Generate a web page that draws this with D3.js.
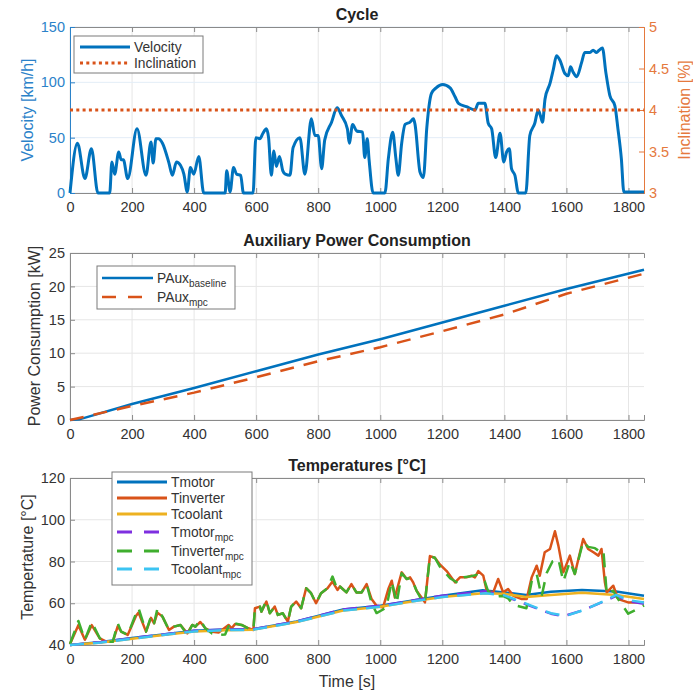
<!DOCTYPE html>
<html>
<head>
<meta charset="utf-8">
<script src="https://cdn.jsdelivr.net/npm/d3@7"></script>
<style>
  body { margin: 0; background: #fff; }
  text { font-family: "Liberation Sans", Arial, sans-serif; }
</style>
</head>
<body>
<div id="chart"></div>
<script>
// ---- data ----
const timeTicks = [0, 200, 400, 600, 800, 1000, 1200, 1400, 1600, 1800];
const velTicks = [0, 50, 100, 150];
const inclTicks = [3, 3.5, 4, 4.5, 5];
const powerTicks = [0, 5, 10, 15, 20, 25];
const tempTicks = [40, 60, 80, 100, 120];

// [time s, km/h]
const velocity = [[0,0],[24,45],[48,13],[69,40],[90,0],[128,0],[135,28],[144,17],[157,37],[165,30],[172,30],[186,13],
  [216,58],[245,16],[261,46],[268,27],[277,49],[285,49],[298,45],[319,27],[330,16],[343,28],[356,25],[367,17],[378,1],
  [388,23],[399,17],[415,33],[431,0],[500,0],[505,20],[516,1],[527,23],[537,17],[550,16],[559,0],[590,0],[599,50],
  [612,49],[622,54],[633,58],[640,50],[649,16],[657,38],[665,24],[675,33],[686,20],[694,17],[709,16],[719,41],[741,50],
  [757,17],[778,67],[789,52],[800,52],[811,22],[821,48],[843,64],[861,77],[875,70],[894,58],[900,45],[911,62],[924,56],
  [943,55],[950,32],[958,49],[964,30],[977,0],[1015,0],[1026,31],[1040,55],[1050,32],[1058,16],[1069,45],[1080,62],
  [1096,64],[1107,67],[1112,62],[1128,19],[1139,14],[1150,59],[1165,90],[1180,95],[1201,98],[1225,95],[1241,87],
  [1252,81],[1278,78],[1305,75],[1316,81],[1337,81],[1348,63],[1359,58],[1372,32],[1386,54],[1398,28],[1407,37],
  [1416,40],[1423,22],[1434,16],[1445,0],[1469,0],[1482,52],[1498,63],[1509,75],[1516,70],[1523,64],[1531,85],
  [1547,99],[1558,112],[1568,124],[1579,120],[1595,108],[1606,106],[1613,114],[1622,109],[1633,105],[1649,118],
  [1659,127],[1676,127],[1686,129],[1697,127],[1705,129],[1716,131],[1727,109],[1740,88],[1756,79],[1766,58],
  [1777,31],[1785,1],[1850,1]];

// [time s, %]
const inclination = [[0,4],[1850,4]];

// [time s, kW]
const pauxBaseline = [[0,0],[30,0.1],[200,2.4],[400,4.8],[600,7.3],[800,9.8],[1000,12.1],[1200,14.6],[1400,17.1],[1600,19.6],[1850,22.5]];
const pauxMpc = [[0,0],[200,2.1],[400,4.1],[600,6.4],[800,8.8],[1000,10.9],[1200,13.3],[1400,15.8],[1600,18.9],[1850,21.9]];

// [time s, degC]
const tMotor = [[0,40],[100,41.4],[200,43.3],[300,45],[400,46.8],[500,47.4],[590,47.6],[730,51.3],[880,57],[1000,58.8],
  [1100,61.2],[1200,63.6],[1330,66.2],[1400,65.2],[1470,64],[1550,65.5],[1650,66.4],[1760,65.6],[1850,63.6]];
const tCoolant = [[0,40],[100,41.2],[200,43],[300,44.8],[400,46.5],[500,47.1],[590,47.3],[730,51],[880,56.5],[1000,58.3],
  [1100,60.8],[1200,63],[1330,64.8],[1400,64.5],[1470,63],[1550,64],[1650,65],[1760,64],[1850,62]];
const tInverter = [[0,40.5],[27,49.5],[48,42.5],[70,49.5],[96,43.2],[117,41.6],[138,41.6],[154,49],[165,46.4],[186,44.8],
  [213,54],[221,55.5],[245,46.4],[261,53],[271,50.4],[282,55.5],[298,53.6],[319,47.2],[335,48.8],[356,49.6],[378,45.6],
  [394,49.6],[404,48.8],[420,51],[436,48],[458,46.4],[479,46],[511,49.6],[521,48],[532,50],[553,49.6],[575,48],[591,47.2],
  [596,57.6],[612,58.4],[617,56],[633,60.8],[644,55.2],[660,58.4],[670,54.4],[686,55.2],[702,51.2],[713,58.4],[729,60.8],
  [745,57.6],[761,67.2],[777,64.8],[793,60],[809,64.8],[830,67.2],[846,70.4],[862,66.4],[870,68],[891,65.2],[907,69.2],
  [923,65.2],[940,65.2],[956,69.2],[972,62],[988,58.8],[1009,58],[1026,66.8],[1037,70.8],[1047,62.8],[1069,74.8],
  [1085,71.6],[1096,72.4],[1106,70],[1117,66],[1133,62.8],[1144,60.4],[1160,82.6],[1176,81.8],[1192,78.6],[1214,75.4],
  [1241,70],[1257,72.4],[1278,72.4],[1294,73.2],[1305,72.4],[1316,75.4],[1332,73.2],[1343,66],[1364,65.2],[1380,71.6],
  [1396,65.2],[1412,66.8],[1429,63.6],[1456,62],[1472,62],[1488,72.4],[1504,78],[1514,73.2],[1530,84.4],[1547,86],
  [1563,94.5],[1574,87.6],[1590,74.8],[1611,82.8],[1627,74],[1654,90.8],[1670,86],[1687,84.4],[1703,82.8],[1713,86],
  [1724,70],[1730,65.2],[1751,68.4],[1767,62],[1799,60.4],[1850,60.5]];
const tMotorMpc = [[0,40],[100,41.4],[200,43.3],[300,45],[400,46.8],[500,47.4],[590,47.6],[730,51.3],[880,57],[1000,58.8],
  [1100,61.2],[1200,63.6],[1340,65.8],[1400,63.5],[1470,59.5],[1550,55],[1590,53.8],[1650,56.5],[1720,60.8],[1760,63.5],
  [1800,61],[1850,59.8]];
const tInverterMpc = [[0,40.5],[27,51.5],[48,42.5],[70,51],[96,43.2],[117,41.6],[138,41.6],[154,50.4],[165,46.4],[186,44.8],
  [213,55.2],[221,57.6],[245,46.4],[261,53.6],[271,50.4],[282,57.6],[298,53.6],[319,47.2],[335,48.8],[356,49.6],[378,45],
  [394,49.6],[404,48.8],[420,52],[436,48],[458,45.5],[479,44.8],[500,45],[511,49],[521,48],[532,50.4],[553,49.6],[575,48],
  [591,47.2],[596,57.6],[612,58.4],[617,56],[633,61.5],[644,55.2],[660,58.4],[670,54.4],[686,55.2],[702,51.2],[713,58.4],
  [729,60.8],[745,57.6],[761,67.2],[777,64.8],[793,60],[809,64.8],[830,67.2],[846,72.8],[862,66.4],[870,68],[891,65.2],
  [907,69.2],[923,65.2],[940,65.2],[956,69.2],[972,60],[988,55.3],[1009,57],[1020,58.4],[1037,70.4],[1053,60],[1069,74.4],
  [1085,71.6],[1096,72],[1106,70],[1117,66],[1133,61.6],[1144,60.4],[1160,82.4],[1176,81.8],[1192,77.6],[1225,72],
  [1251,69.6],[1270,72.5],[1294,73],[1310,73.6],[1337,70.4],[1348,65.6],[1375,63.2],[1395,63.5],[1412,62.4],[1429,59.2],
  [1471,57.6],[1488,70.4],[1504,74],[1520,63.2],[1536,74.4],[1555,80],[1574,81.2],[1590,70.4],[1611,80],[1627,74],
  [1654,89.6],[1670,87],[1692,86.4],[1705,85],[1719,85.5],[1730,64.4],[1751,66],[1762,63],[1799,55],[1842,58.3],[1850,59]];
const tCoolantMpc = [[0,40],[100,41.2],[200,43],[300,44.8],[400,46.5],[500,47.1],[590,47.3],[730,51],[880,56.5],[1000,58.3],
  [1100,60.8],[1200,63],[1340,64.8],[1400,63.8],[1470,59.8],[1550,55.2],[1600,54],[1660,57],[1720,61],[1760,64],
  [1800,61.5],[1850,60.4]];

// ---- setup ----
const width = 693, height = 691;
const blue = "#0072BD", orange = "#D95319", yellow = "#EDB120",
      purple = "#7E2FE0", green = "#3FAE2E", cyan = "#3CC4F2";
const frameColor = "#8a8a8a", gridColor = "#e6e6e6", textColor = "#333";

const svg = d3.select("#chart")
    .append("svg")
    .attr("width", width)
    .attr("height", height);

const x = d3.scaleLinear().domain([0, 1850]).range([70, 644]);

const line = d3.line().x(d => x(d[0]));

// draws grid, border, x axes and title for a panel; returns its y scale
function makePanel(top, bottom, yDomain, yTicks, title, gridCol) {
  const y = d3.scaleLinear().domain(yDomain).range([bottom, top]);
  const g = svg.append("g");

  g.selectAll(".vgrid").data(timeTicks).join("line")
      .attr("x1", d => x(d)).attr("x2", d => x(d))
      .attr("y1", top).attr("y2", bottom)
      .attr("stroke", gridColor);
  g.selectAll(".hgrid").data(yTicks).join("line")
      .attr("x1", x.range()[0]).attr("x2", x.range()[1])
      .attr("y1", d => y(d)).attr("y2", d => y(d))
      .attr("stroke", gridCol || gridColor);

  const xb = g.append("g")
      .attr("transform", `translate(0,${bottom})`)
      .call(d3.axisBottom(x).tickValues(timeTicks).tickFormat(d3.format("d")).tickSize(-5).tickPadding(9));
  const xt = g.append("g")
      .attr("transform", `translate(0,${top})`)
      .call(d3.axisTop(x).tickValues(timeTicks).tickSize(-5).tickFormat(""));
  [xb, xt].forEach(a => {
    a.select(".domain").attr("stroke", frameColor);
    a.selectAll(".tick line").attr("stroke", frameColor);
    a.selectAll("text").attr("fill", textColor).style("font-size", "14.5px")
        .style("font-family", "'Liberation Sans', Arial, sans-serif");
  });

  svg.append("text")
      .attr("x", (x.range()[0] + x.range()[1]) / 2)
      .attr("y", top - 7)
      .attr("text-anchor", "middle")
      .attr("fill", "#222")
      .style("font-size", "16px")
      .style("font-weight", "bold")
      .text(title);
  return y;
}

function yAxis(y, ticks, side, color, labelColor, fmt) {
  const pos = side === "left" ? x.range()[0] : x.range()[1];
  const gen = (side === "left" ? d3.axisLeft(y) : d3.axisRight(y))
      .tickValues(ticks).tickSize(-5).tickPadding(5);
  if (fmt) gen.tickFormat(fmt);
  const a = svg.append("g").attr("transform", `translate(${pos},0)`).call(gen);
  a.select(".domain").attr("stroke", color);
  a.selectAll(".tick line").attr("stroke", color);
  a.selectAll("text").attr("fill", labelColor).style("font-size", "14.5px")
      .style("font-family", "'Liberation Sans', Arial, sans-serif");
}

function yLabel(text, cx, cy, color) {
  return svg.append("text")
      .attr("transform", `translate(${cx},${cy}) rotate(-90)`)
      .attr("text-anchor", "middle")
      .attr("fill", color)
      .style("font-size", "16px")
      .text(text);
}

function legendBox(x0, y0, w, h) {
  svg.append("rect")
      .attr("x", x0).attr("y", y0).attr("width", w).attr("height", h)
      .attr("fill", "#fff").attr("stroke", "#7a7a7a").attr("stroke-width", 1);
}

function legendEntry(x0, x1, yy, color, dash, width, label, sub) {
  svg.append("line")
      .attr("x1", x0).attr("x2", x1).attr("y1", yy).attr("y2", yy)
      .attr("stroke", color).attr("stroke-width", width)
      .attr("stroke-dasharray", dash);
  const t = svg.append("text")
      .attr("x", x1 + 4).attr("y", yy + 5)
      .attr("fill", textColor)
      .style("font-size", "13.8px")
      .text(label);
  if (sub) {
    t.append("tspan").attr("dy", 4).style("font-size", "10px").text(sub);
  }
}

// ---- Cycle ----
const yVel = makePanel(27, 193, [0, 150], velTicks, "Cycle", "#e3edf7");
const yIncl = d3.scaleLinear().domain([3, 5]).range([193, 27]);
yAxis(yVel, velTicks, "left", "#2b82c9", "#2b82c9");
yAxis(yIncl, inclTicks, "right", "#e5793d", "#e5793d", d => d);
yLabel("Velocity [km/h]", 33, 110, "#2b82c9");
yLabel("Inclination [%]", 690, 110, "#e5793d");

svg.append("path")
    .datum(velocity)
    .attr("fill", "none")
    .attr("stroke", blue)
    .attr("stroke-width", 3)
    .attr("stroke-linejoin", "round")
    .attr("d", line.y(d => yVel(d[1])).curve(d3.curveMonotoneX));
svg.append("path")
    .datum(inclination)
    .attr("fill", "none")
    .attr("stroke", orange)
    .attr("stroke-width", 3)
    .attr("stroke-dasharray", "3,3.3")
    .attr("d", line.y(d => yIncl(d[1])).curve(d3.curveLinear));

legendBox(74, 36, 129, 37);
legendEntry(80, 130, 47, blue, null, 3, "Velocity");
legendEntry(80, 130, 63, orange, "3,3.3", 3, "Inclination");

// ---- Auxiliary power ----
const yPow = makePanel(253, 420, [0, 25], powerTicks, "Auxiliary Power Consumption");
yAxis(yPow, powerTicks, "left", frameColor, textColor);
yLabel("Power Consumption [kW]", 40, 336, textColor);

svg.append("path")
    .datum(pauxBaseline)
    .attr("fill", "none")
    .attr("stroke", blue)
    .attr("stroke-width", 2.5)
    .attr("d", line.y(d => yPow(d[1])).curve(d3.curveLinear));
svg.append("path")
    .datum(pauxMpc)
    .attr("fill", "none")
    .attr("stroke", orange)
    .attr("stroke-width", 2.5)
    .attr("stroke-dasharray", "14,10")
    .attr("d", line.y(d => yPow(d[1])).curve(d3.curveLinear));

legendBox(97, 266, 138, 43);
legendEntry(102, 153, 278, blue, null, 2.5, "PAux", "baseline");
legendEntry(102, 153, 297, orange, "14,12", 2.5, "PAux", "mpc");

// ---- Temperatures ----
const yTemp = makePanel(478, 645, [40, 120], tempTicks, "Temperatures [°C]");
yAxis(yTemp, tempTicks, "left", frameColor, textColor);
yLabel("Tempertature [°C]", 33, 557, textColor);

const tempSeries = [
  { data: tMotor, color: blue, dash: null },
  { data: tInverter, color: orange, dash: null },
  { data: tCoolant, color: yellow, dash: null },
  { data: tMotorMpc, color: purple, dash: "14,9" },
  { data: tInverterMpc, color: green, dash: "14,9" },
  { data: tCoolantMpc, color: cyan, dash: "14,9" }
];
tempSeries.forEach(s => {
  svg.append("path")
      .datum(s.data)
      .attr("fill", "none")
      .attr("stroke", s.color)
      .attr("stroke-width", 2.5)
      .attr("stroke-linejoin", "round")
      .attr("stroke-dasharray", s.dash)
      .attr("d", line.y(d => yTemp(d[1])).curve(d3.curveLinear));
});

svg.append("text")
    .attr("x", 347).attr("y", 687)
    .attr("text-anchor", "middle")
    .attr("fill", textColor)
    .style("font-size", "16px")
    .text("Time [s]");

legendBox(112, 472, 140, 113);
legendEntry(117, 167, 482, blue, null, 3, "Tmotor");
legendEntry(117, 167, 498, orange, null, 3, "Tinverter");
legendEntry(117, 167, 514, yellow, null, 3, "Tcoolant");
legendEntry(117, 167, 532, purple, "15,12", 3, "Tmotor", "mpc");
legendEntry(117, 167, 551, green, "15,12", 3, "Tinverter", "mpc");
legendEntry(117, 167, 569, cyan, "15,12", 3, "Tcoolant", "mpc");
</script>
</body>
</html>
